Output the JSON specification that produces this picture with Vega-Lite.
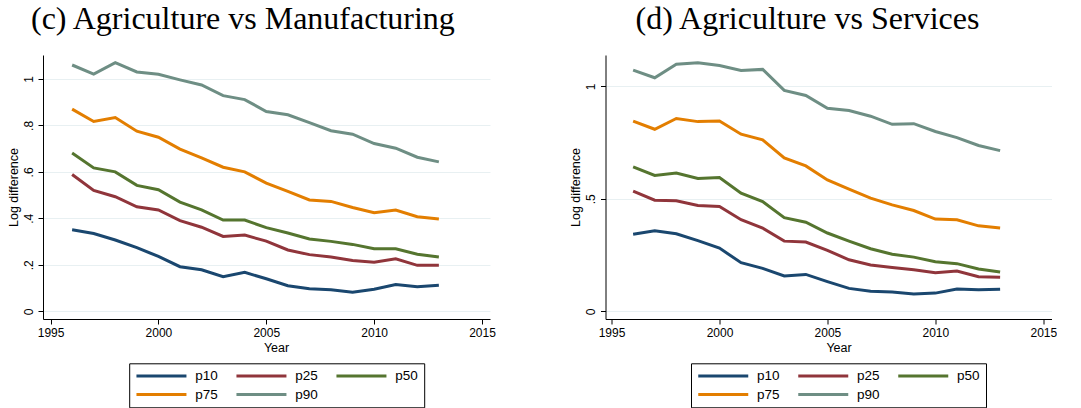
{
  "$schema": "https://vega.github.io/schema/vega-lite/v6.json",
  "background": "white",
  "padding": {"left": 7, "top": 3, "right": 0, "bottom": 0},
  "config": {
    "view": {"stroke": null},
    "font": "Liberation Sans",
    "axis": {
      "domainColor": "black", "tickColor": "black", "labelColor": "black", "titleColor": "black",
      "labelFont": "Liberation Sans", "titleFont": "Liberation Sans",
      "labelFontSize": 12, "titleFontSize": 12.5, "titleFontWeight": "normal",
      "tickSize": 5, "domainWidth": 1, "tickWidth": 1,
      "gridColor": "#e8f0f2", "gridWidth": 1
    },
    "legend": {
      "labelFont": "Liberation Sans", "labelFontSize": 13.5, "labelColor": "black",
      "strokeColor": "black", "padding": 5.5
    },
    "title": {"font": "Liberation Serif", "fontSize": 32, "fontWeight": "normal", "color": "black"}
  },
  "datasets": {
    "mfg": [
      {"year": 1996, "p10": 0.351, "p25": 0.589, "p50": 0.681, "p75": 0.870, "p90": 1.060},
      {"year": 1997, "p10": 0.335, "p25": 0.520, "p50": 0.617, "p75": 0.817, "p90": 1.021},
      {"year": 1998, "p10": 0.307, "p25": 0.493, "p50": 0.600, "p75": 0.834, "p90": 1.070},
      {"year": 1999, "p10": 0.274, "p25": 0.450, "p50": 0.542, "p75": 0.775, "p90": 1.030},
      {"year": 2000, "p10": 0.236, "p25": 0.436, "p50": 0.523, "p75": 0.749, "p90": 1.020},
      {"year": 2001, "p10": 0.192, "p25": 0.390, "p50": 0.470, "p75": 0.698, "p90": 0.996},
      {"year": 2002, "p10": 0.179, "p25": 0.362, "p50": 0.437, "p75": 0.660, "p90": 0.974},
      {"year": 2003, "p10": 0.149, "p25": 0.322, "p50": 0.393, "p75": 0.620, "p90": 0.928},
      {"year": 2004, "p10": 0.168, "p25": 0.328, "p50": 0.393, "p75": 0.600, "p90": 0.911},
      {"year": 2005, "p10": 0.140, "p25": 0.302, "p50": 0.360, "p75": 0.552, "p90": 0.860},
      {"year": 2006, "p10": 0.110, "p25": 0.264, "p50": 0.337, "p75": 0.516, "p90": 0.846},
      {"year": 2007, "p10": 0.097, "p25": 0.244, "p50": 0.311, "p75": 0.479, "p90": 0.812},
      {"year": 2008, "p10": 0.093, "p25": 0.234, "p50": 0.301, "p75": 0.473, "p90": 0.777},
      {"year": 2009, "p10": 0.082, "p25": 0.219, "p50": 0.288, "p75": 0.447, "p90": 0.762},
      {"year": 2010, "p10": 0.095, "p25": 0.211, "p50": 0.269, "p75": 0.424, "p90": 0.722},
      {"year": 2011, "p10": 0.115, "p25": 0.226, "p50": 0.269, "p75": 0.436, "p90": 0.702},
      {"year": 2012, "p10": 0.106, "p25": 0.198, "p50": 0.246, "p75": 0.407, "p90": 0.663},
      {"year": 2013, "p10": 0.112, "p25": 0.198, "p50": 0.234, "p75": 0.397, "p90": 0.643}
    ],
    "svc": [
      {"year": 1996, "p10": 0.343, "p25": 0.534, "p50": 0.642, "p75": 0.845, "p90": 1.072},
      {"year": 1997, "p10": 0.358, "p25": 0.494, "p50": 0.604, "p75": 0.809, "p90": 1.038},
      {"year": 1998, "p10": 0.345, "p25": 0.491, "p50": 0.615, "p75": 0.857, "p90": 1.098},
      {"year": 1999, "p10": 0.314, "p25": 0.470, "p50": 0.590, "p75": 0.843, "p90": 1.105},
      {"year": 2000, "p10": 0.281, "p25": 0.466, "p50": 0.595, "p75": 0.846, "p90": 1.092},
      {"year": 2001, "p10": 0.216, "p25": 0.407, "p50": 0.525, "p75": 0.787, "p90": 1.070},
      {"year": 2002, "p10": 0.191, "p25": 0.370, "p50": 0.488, "p75": 0.762, "p90": 1.075},
      {"year": 2003, "p10": 0.157, "p25": 0.312, "p50": 0.416, "p75": 0.682, "p90": 0.982},
      {"year": 2004, "p10": 0.164, "p25": 0.308, "p50": 0.396, "p75": 0.646, "p90": 0.959},
      {"year": 2005, "p10": 0.132, "p25": 0.271, "p50": 0.348, "p75": 0.584, "p90": 0.902},
      {"year": 2006, "p10": 0.102, "p25": 0.229, "p50": 0.312, "p75": 0.543, "p90": 0.892},
      {"year": 2007, "p10": 0.089, "p25": 0.206, "p50": 0.278, "p75": 0.503, "p90": 0.867},
      {"year": 2008, "p10": 0.086, "p25": 0.195, "p50": 0.254, "p75": 0.473, "p90": 0.831},
      {"year": 2009, "p10": 0.077, "p25": 0.185, "p50": 0.241, "p75": 0.448, "p90": 0.834},
      {"year": 2010, "p10": 0.081, "p25": 0.172, "p50": 0.220, "p75": 0.410, "p90": 0.799},
      {"year": 2011, "p10": 0.099, "p25": 0.179, "p50": 0.212, "p75": 0.407, "p90": 0.772},
      {"year": 2012, "p10": 0.096, "p25": 0.154, "p50": 0.188, "p75": 0.380, "p90": 0.737},
      {"year": 2013, "p10": 0.098, "p25": 0.151, "p50": 0.175, "p75": 0.370, "p90": 0.714}
    ]
  },
  "spacing": 73.5,
  "resolve": {"scale": {"color": "independent"}, "legend": {"color": "independent"}},
  "hconcat": [
    {
      "title": {"text": "(c) Agriculture vs Manufacturing", "anchor": "start", "frame": "group", "dx": -12, "baseline": "alphabetic", "offset": -6},
      "width": 447, "height": 264,
      "data": {"name": "mfg"},
      "transform": [{"fold": ["p10", "p25", "p50", "p75", "p90"], "as": ["pct", "value"]}],
      "mark": {"type": "line", "strokeWidth": 3},
      "encoding": {
        "x": {"field": "year", "type": "quantitative",
          "scale": {"domain": [1994.65, 2015.37], "nice": false, "zero": false},
          "axis": {"values": [1995, 2000, 2005, 2010, 2015], "format": "d", "title": "Year", "grid": false, "labelPadding": 3, "titlePadding": 3, "titleX": 233}},
        "y": {"field": "value", "type": "quantitative",
          "scale": {"domain": [-0.033, 1.103], "nice": false, "zero": false},
          "axis": {"values": [0, 0.2, 0.4, 0.6, 0.8, 1], "format": ".1~f", "labelExpr": "replace(datum.label, '0.', '.')", "title": "Log difference", "labelAngle": -90, "grid": true, "labelPadding": 3, "titlePadding": 2}},
        "color": {"field": "pct", "type": "nominal",
          "scale": {"domain": ["p10", "p25", "p50", "p75", "p90"], "range": ["#1a476f", "#90353b", "#55752f", "#e37e00", "#6e8e84"]},
          "legend": {"orient": "none", "legendX": 86.2, "legendY": 308.3, "direction": "horizontal", "columns": 3, "title": null,
            "symbolType": "M-1,0H9", "symbolSize": 100, "symbolStrokeWidth": 3, "labelOffset": 47, "columnPadding": 11, "rowPadding": 4}}
      }
    },
    {
      "title": {"text": "(d) Agriculture vs Services", "anchor": "start", "frame": "group", "dx": 30, "baseline": "alphabetic", "offset": -6},
      "width": 446, "height": 264,
      "data": {"name": "svc"},
      "transform": [{"fold": ["p10", "p25", "p50", "p75", "p90"], "as": ["pct", "value"]}],
      "mark": {"type": "line", "strokeWidth": 3},
      "encoding": {
        "x": {"field": "year", "type": "quantitative",
          "scale": {"domain": [1994.72, 2015.38], "nice": false, "zero": false},
          "axis": {"values": [1995, 2000, 2005, 2010, 2015], "format": "d", "title": "Year", "grid": false, "labelPadding": 3, "titlePadding": 3, "titleX": 233}},
        "y": {"field": "value", "type": "quantitative",
          "scale": {"domain": [-0.034, 1.139], "nice": false, "zero": false},
          "axis": {"values": [0, 0.5, 1], "format": ".1~f", "labelExpr": "replace(datum.label, '0.', '.')", "title": "Log difference", "labelAngle": -90, "grid": true, "labelPadding": 3, "titlePadding": 2}},
        "color": {"field": "pct", "type": "nominal",
          "scale": {"domain": ["p10", "p25", "p50", "p75", "p90"], "range": ["#1a476f", "#90353b", "#55752f", "#e37e00", "#6e8e84"]},
          "legend": {"orient": "none", "legendX": 85.5, "legendY": 308.3, "direction": "horizontal", "columns": 3, "title": null,
            "symbolType": "M-1,0H9", "symbolSize": 100, "symbolStrokeWidth": 3, "labelOffset": 47, "columnPadding": 11, "rowPadding": 4}}
      }
    }
  ]
}
